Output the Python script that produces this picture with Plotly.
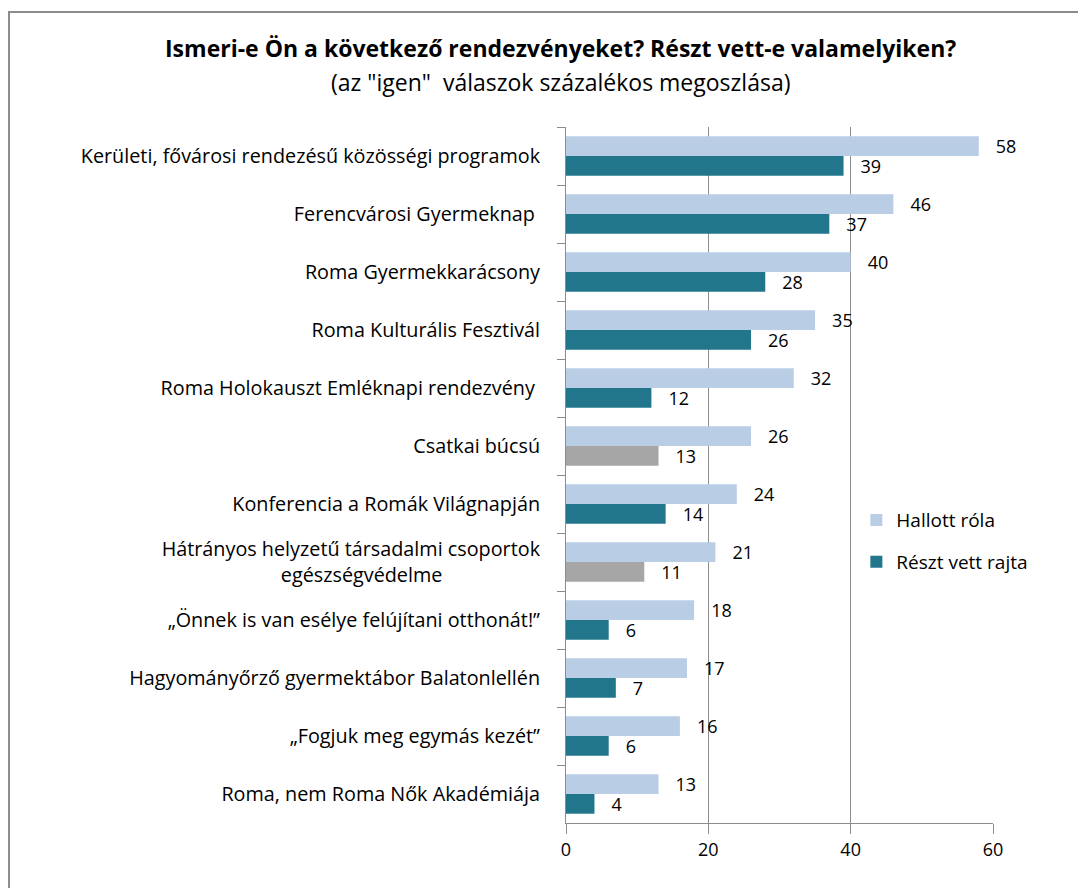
import plotly.graph_objects as go

NBSP = "\u00a0"

# categories, top to bottom
categories = [
    "Kerületi, fővárosi rendezésű közösségi programok",
    "Ferencvárosi Gyermeknap ",
    "Roma Gyermekkarácsony",
    "Roma Kulturális Fesztivál",
    "Roma Holokauszt Emléknapi rendezvény ",
    "Csatkai búcsú",
    "Konferencia a Romák Világnapján",
    "Hátrányos helyzetű társadalmi csoportok<br>egészségvédelme" + NBSP * 19,
    "„Önnek is van esélye felújítani otthonát!”",
    "Hagyományőrző gyermektábor Balatonlellén",
    "„Fogjuk meg egymás kezét”",
    "Roma, nem Roma Nők Akadémiája",
]
heard = [58, 46, 40, 35, 32, 26, 24, 21, 18, 17, 16, 13]
attended = [39, 37, 28, 26, 12, 13, 14, 11, 6, 7, 6, 4]
# answers with low case numbers are shown in grey
low_base = [False, False, False, False, False, True, False, True, False, False, False, False]

x_ticks = [0, 20, 40, 60]

LIGHT = "#B9CDE5"
TEAL = "#22768B"
GREY = "#A6A6A6"
FONT = "Open Sans"

fig = go.Figure()
fig.add_trace(go.Bar(
    y=categories, x=heard, orientation="h", name="Hallott róla",
    marker=dict(color=LIGHT, line=dict(width=0)),
    text=[NBSP * 3 + str(v) for v in heard], textposition="outside",
    cliponaxis=False, legendgroup="a",
))
fig.add_trace(go.Bar(
    y=categories, x=attended, orientation="h", name="Részt vett rajta",
    marker=dict(color=[GREY if g else TEAL for g in low_base], line=dict(width=0)),
    text=[NBSP * 3 + str(v) for v in attended], textposition="outside",
    cliponaxis=False, legendgroup="b",
))

fig.update_traces(textfont=dict(family=FONT, size=18, color="#000000"),
                  constraintext="none")

# page body adds an 8px offset, margins are set with that in mind
fig.update_layout(
    width=1086, height=888,
    margin=dict(l=558, r=101, t=119, b=73),
    plot_bgcolor="white", paper_bgcolor="white",
    barmode="group", bargap=0.32, bargroupgap=0,
    font=dict(family=FONT, size=18, color="#000000"),
    showlegend=True,
    legend=dict(x=0.68, y=0.405, xanchor="left", yanchor="middle",
                bgcolor="rgba(0,0,0,0)", font=dict(size=19),
                tracegroupgap=14, traceorder="grouped"),
)
fig.update_xaxes(
    range=[0, 60], tickvals=x_ticks, showgrid=True, gridcolor="#8C8C8C", gridwidth=1,
    showline=True, linecolor="#8C8C8C", ticks="outside", ticklen=10,
    tickcolor="#8C8C8C", zeroline=False, tickfont=dict(size=18),
)
fig.update_yaxes(
    autorange="reversed", showline=True, linecolor="#8C8C8C", ticks="outside",
    ticklen=8, tickcolor="#8C8C8C", tickson="boundaries", showgrid=False,
    tickfont=dict(size=19.8), ticklabelstandoff=21,
)

# chart title
fig.add_annotation(
    text="<b>Ismeri-e Ön a következő rendezvényeket? Részt vett-e valamelyiken?</b>",
    xref="paper", yref="paper", x=-0.014, y=1.113, showarrow=False,
    font=dict(size=23), xanchor="center", yanchor="middle",
)
fig.add_annotation(
    text='(az "igen"  válaszok százalékos megoszlása)',
    xref="paper", yref="paper", x=-0.014, y=1.064, showarrow=False,
    font=dict(size=23), xanchor="center", yanchor="middle",
)

# outer chart border (left and top edges visible)
fig.add_shape(type="rect", xref="paper", yref="paper",
              x0=(1 - 558) / 427, x1=(1100 - 558) / 427,
              y0=-0.2, y1=(815 - 4) / 696,
              line=dict(color="#8C8C8C", width=2), layer="below")

fig.write_html("out.html")
